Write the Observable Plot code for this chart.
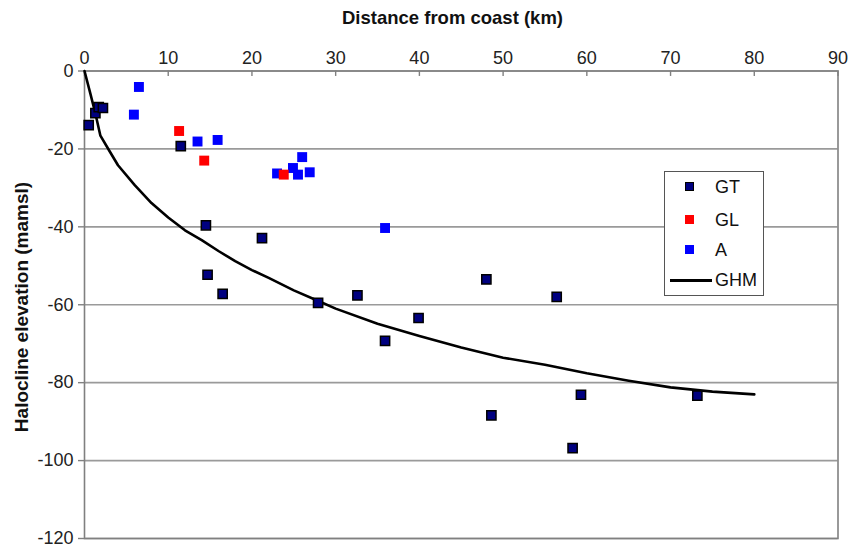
<!DOCTYPE html>
<html>
<head>
<meta charset="utf-8">
<script src="https://cdn.jsdelivr.net/npm/d3@7"></script>
<script src="https://cdn.jsdelivr.net/npm/@observablehq/plot@0.6"></script>
<style>
  html, body { margin: 0; padding: 0; background: #fff; }
  #wrap { position: relative; width: 850px; height: 544px; font-family: "Liberation Sans", Arial, sans-serif; overflow: hidden; }
  #wrap svg { position: absolute; left: 0; top: 0; }
  #xtitle { position: absolute; left: 0; width: 905px; top: 7px; text-align: center; font-size: 18.5px; font-weight: bold; color: #111; line-height: 22px; }
  #ytitle { position: absolute; left: 22px; top: 307px; transform: translate(-50%, -50%) rotate(-90deg); white-space: nowrap; font-size: 19px; font-weight: bold; color: #111; line-height: 22px; }
  #legend { position: absolute; left: 664px; top: 171px; width: 100px; height: 125px; border: 1.5px solid #555; background: #fff; box-sizing: border-box; }
  .row { position: absolute; left: 0; width: 100%; height: 22px; }
  .sw { position: absolute; top: 6px; width: 9px; height: 9px; box-sizing: border-box; }
  .lab { position: absolute; left: 50px; top: 0; font-size: 18px; line-height: 22px; color: #111; }
</style>
</head>
<body>
<div id="wrap"></div>
<script>
// Distance from coast (km) and halocline elevation (mamsl)
const gtX = [0.5, 1.3, 1.7, 2.2, 11.5, 14.5, 21.2, 14.7, 16.5, 27.9, 32.6, 35.9, 39.9, 48.0, 56.4, 48.6, 58.3, 59.3, 73.2];
const gtY = [-13.9, -10.8, -9.3, -9.5, -19.3, -39.6, -42.9, -52.3, -57.2, -59.5, -57.6, -69.3, -63.4, -53.5, -58.0, -88.4, -96.8, -83.1, -83.3];
const glX = [11.3, 14.3, 23.8];
const glY = [-15.4, -23.0, -26.6];
const aX = [6.5, 5.9, 13.5, 15.9, 23.0, 24.9, 26.0, 25.5, 26.9, 35.9];
const aY = [-4.1, -11.2, -18.1, -17.7, -26.3, -24.9, -22.1, -26.6, -26.0, -40.3];
const ghmX = [0, 0.7, 1.3, 1.9, 3, 4, 6, 8, 10, 12, 14, 16, 18, 20, 22, 25, 28, 30, 35, 40, 45, 50, 55, 60, 65, 70, 75, 80];
const ghmY = [0, -5.8, -10.9, -16.6, -20.6, -24.2, -29.3, -33.9, -37.6, -40.9, -43.4, -46.2, -48.8, -51.1, -53.1, -56.3, -59.1, -61.0, -64.9, -68.0, -71.0, -73.6, -75.4, -77.6, -79.5, -81.2, -82.3, -83.0];
const xTicks = [0, 10, 20, 30, 40, 50, 60, 70, 80, 90];
const yTicks = [0, -20, -40, -60, -80, -100, -120];
const seriesNames = ["GT", "GL", "A", "GHM"];
const xTitle = "Distance from coast (km)";
const yTitle = "Halocline elevation (mamsl)";

const zip = (xs, ys) => xs.map((x, i) => ({x, y: ys[i]}));
const gt = zip(gtX, gtY), gl = zip(glX, glY), a = zip(aX, aY), ghm = zip(ghmX, ghmY);

const chart = Plot.plot({
  width: 850,
  height: 544,
  marginLeft: 84,
  marginRight: 12.5,
  marginTop: 70.5,
  marginBottom: 6,
  style: {fontFamily: "'Liberation Sans', Arial, sans-serif", fontSize: "18px", color: "#222", background: "#fff", overflow: "visible"},
  x: {domain: [0, 90]},
  y: {domain: [-120, 0]},
  marks: [
    Plot.ruleY(yTicks, {y: d => d, stroke: "#9a9a9a", strokeWidth: 1.6}),
    Plot.frame({stroke: "#808080", strokeWidth: 1.6}),
    Plot.ruleX(xTicks, {x: d => d, y1: 0, y2: -1.4, stroke: "#808080", strokeWidth: 1.4}),
    Plot.axisX(xTicks, {anchor: "top", tickSize: 0, tickPadding: 7, label: null, tickFormat: d => String(d), fontSize: 18, fill: "#222"}),
    Plot.axisY(yTicks, {anchor: "left", tickSize: 6, tickPadding: 5, label: null, tickFormat: d => String(d), fontSize: 18, fill: "#222", stroke: "#808080", strokeWidth: 1.4}),
    Plot.line(ghm, {x: "x", y: "y", stroke: "#000", strokeWidth: 2.6}),
    Plot.dot(a, {x: "x", y: "y", symbol: "square", r: 5.6, fill: "#0000ff"}),
    Plot.dot(gl, {x: "x", y: "y", symbol: "square", r: 5.6, fill: "#ff0000"}),
    Plot.dot(gt, {x: "x", y: "y", symbol: "square", r: 5.2, fill: "#000080", stroke: "#000", strokeWidth: 1.5})
  ]
});
const wrap = document.getElementById("wrap");
wrap.appendChild(chart);

const xt = document.createElement("div");
xt.id = "xtitle"; xt.textContent = xTitle; wrap.appendChild(xt);
const yt = document.createElement("div");
yt.id = "ytitle"; yt.textContent = yTitle; wrap.appendChild(yt);

const legend = document.createElement("div");
legend.id = "legend";
const styles = [
  {fill: "#000080", border: "1.5px solid #000"},
  {fill: "#ff0000", border: "none"},
  {fill: "#0000ff", border: "none"},
  {line: true}
];
const rowTops = [4, 37, 67, 97];
seriesNames.forEach((name, i) => {
  const e = styles[i];
  const row = document.createElement("div");
  row.className = "row";
  row.style.top = rowTops[i] + "px";
  if (e.line) {
    const ln = document.createElement("div");
    ln.style.cssText = "position:absolute;left:5px;top:10px;width:42px;height:2.6px;background:#000;";
    row.appendChild(ln);
  } else {
    const sw = document.createElement("div");
    sw.className = "sw";
    sw.style.left = "20px";
    sw.style.background = e.fill;
    sw.style.border = e.border;
    row.appendChild(sw);
  }
  const lab = document.createElement("div");
  lab.className = "lab";
  lab.textContent = name;
  row.appendChild(lab);
  legend.appendChild(row);
});
wrap.appendChild(legend);
</script>
</body>
</html>
